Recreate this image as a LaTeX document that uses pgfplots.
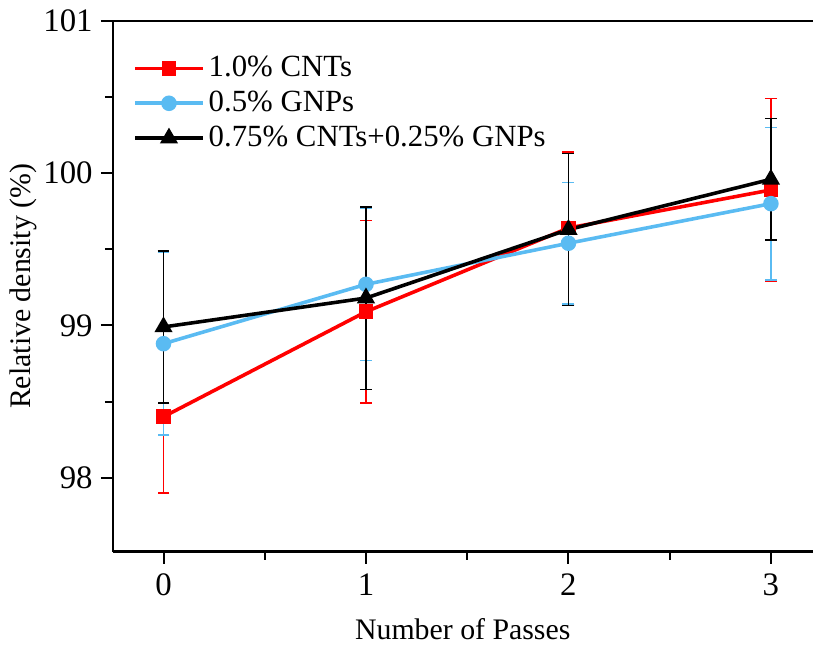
\documentclass[border=0pt]{standalone}
\usepackage{fontspec}
\setmainfont{Liberation Serif}
\usepackage{pgfplots}
\pgfplotsset{compat=1.18}
\definecolor{cred}{RGB}{255,0,0}
\definecolor{cblue}{RGB}{90,187,242}
\begin{document}
\fontsize{15}{18}\selectfont
\begin{tikzpicture}
\begin{axis}[
  scale only axis,
  width=352pt, height=267pt,
  xmin=-0.25, xmax=3.206,
  ymin=97.513, ymax=101,
  axis x line*=box, axis y line*=left,
  xtick={0,1,2,3}, ytick={98,99,100,101},
  minor x tick num=1, minor y tick num=1,
  xtick pos=left, ytick pos=left,
  tick align=outside,
  major tick length=6pt, minor tick length=4pt,
  every tick/.style={line width=1pt, black},
  axis line style={line width=1.4pt},
  /pgf/number format/assume math mode=true,
  ticklabel style={font=\fontsize{16.5}{19}\selectfont},
  yticklabel style={xshift=1pt},
  xlabel={Number of Passes}, ylabel={Relative density (\%)},
  label style={font=\fontsize{15}{18}\selectfont},
  xlabel style={yshift=-1pt},
  ylabel style={yshift=-7pt},
  legend style={draw=none, fill=none, at={(0.02,0.95)}, anchor=north west, font=\fontsize{15.5}{18.5}\selectfont, row sep=1pt},
  legend cell align=left,
  legend image code/.code={\draw[mark repeat=2,mark phase=2] plot coordinates {(0cm,0cm) (0.6cm,0cm) (1.2cm,0cm)};},
  every axis plot/.append style={line width=1.8pt},
  error bars/error bar style={line width=0.8pt, solid},
  error bars/error mark options={rotate=90, mark size=3pt, line width=0.8pt},
]
\addplot[cred, mark=square*, mark size=2.8pt, mark options={solid},
  error bars/.cd, y dir=both, y explicit]
  coordinates {(0,98.40) +- (0,0.50) (1,99.09) +- (0,0.60) (2,99.64) +- (0,0.50) (3,99.89) +- (0,0.60)};
\addlegendentry{1.0\% CNTs}
\addplot[cblue, mark=*, mark size=3pt, mark options={solid},
  error bars/.cd, y dir=both, y explicit]
  coordinates {(0,98.88) +- (0,0.60) (1,99.27) +- (0,0.50) (2,99.54) +- (0,0.40) (3,99.80) +- (0,0.50)};
\addlegendentry{0.5\% GNPs}
\addplot[black, mark=triangle*, mark size=3.5pt, mark options={solid},
  error bars/.cd, y dir=both, y explicit]
  coordinates {(0,98.99) +- (0,0.50) (1,99.18) +- (0,0.60) (2,99.63) +- (0,0.50) (3,99.96) +- (0,0.40)};
\addlegendentry{0.75\% CNTs+0.25\% GNPs}
\end{axis}
\end{tikzpicture}
\end{document}
